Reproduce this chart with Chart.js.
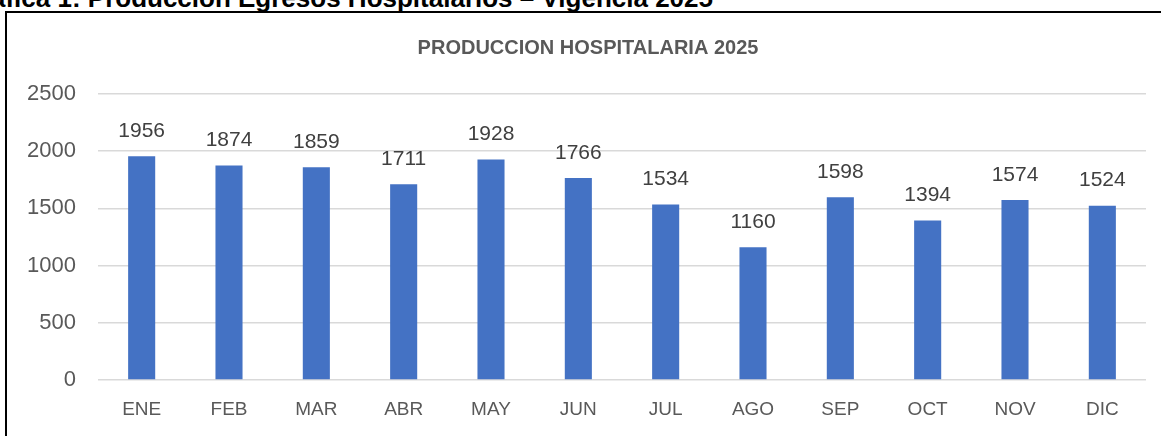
<!DOCTYPE html>
<html>
<head>
<meta charset="utf-8">
<script src="https://cdn.jsdelivr.net/npm/chart.js@4"></script>
<style>
    body { margin: 0; background: #fff; overflow: hidden; }
    #wrap { position: relative; width: 1161px; height: 436px; }
    #caption {
        position: absolute; right: 448px; top: -15px; white-space: nowrap;
        font-family: "Liberation Sans Narrow", "Liberation Sans", Arial, sans-serif;
        font-weight: bold; font-size: 26px; line-height: 26px; color: #000;
    }
    #frame {
        position: absolute; left: 5px; top: 11px; width: 1170px; height: 440px;
        border: 2px solid #000; box-sizing: border-box;
    }
    #chart { position: absolute; left: 0; top: 0; }
</style>
</head>
<body>
<div id="wrap">
    <div id="caption">Gráfica 1: Producción Egresos Hospitalarios – Vigencia 2025</div>
    <div id="frame"></div>
    <canvas id="chart" width="1161" height="436"></canvas>
</div>
<script>
const months = ['ENE', 'FEB', 'MAR', 'ABR', 'MAY', 'JUN', 'JUL', 'AGO', 'SEP', 'OCT', 'NOV', 'DIC'];
const egresos = [1956, 1874, 1859, 1711, 1928, 1766, 1534, 1160, 1598, 1394, 1574, 1524];
const yTicks = [0, 500, 1000, 1500, 2000, 2500];
const chartTitle = 'PRODUCCION HOSPITALARIA 2025';

const FONT = '"Liberation Sans", Arial, sans-serif';

// titulo y etiquetas de valor encima de cada barra
const valueLabels = {
    id: 'valueLabels',
    afterDatasetsDraw(chart) {
        const ctx = chart.ctx;
        const meta = chart.getDatasetMeta(0);
        ctx.save();
        ctx.textAlign = 'center';
        ctx.textBaseline = 'middle';

        ctx.font = 'bold 20px ' + FONT;
        ctx.fillStyle = '#595959';
        ctx.fillText(chartTitle, 588, 48);

        ctx.font = '21px ' + FONT;
        ctx.fillStyle = '#404040';
        meta.data.forEach((bar, i) => {
            ctx.fillText(egresos[i], bar.x, bar.y - 25);
        });
        ctx.restore();
    }
};

new Chart(document.getElementById('chart').getContext('2d'), {
    type: 'bar',
    data: {
        labels: months,
        datasets: [{
            label: 'Egresos',
            data: egresos,
            backgroundColor: '#4472C4',
            barPercentage: 0.31,
            categoryPercentage: 1
        }]
    },
    options: {
        responsive: false,
        animation: false,
        layout: { padding: { left: 0, right: 15, top: 94, bottom: 0 } },
        plugins: {
            legend: { display: false },
            tooltip: { enabled: false },
            title: { display: false }
        },
        scales: {
            x: {
                afterFit(scale) { scale.height = 56; },
                grid: { display: false, drawTicks: false },
                border: { display: false },
                ticks: {
                    color: '#595959',
                    padding: 18,
                    font: { family: FONT, size: 19 }
                }
            },
            y: {
                min: 0,
                max: 2500,
                afterFit(scale) { scale.width = 98; },
                afterTickToLabelConversion(scale) {
                    scale.ticks = yTicks.map(v => ({ value: v, label: String(v) }));
                },
                grid: { color: '#d9d9d9', lineWidth: 1.5, drawTicks: false },
                border: { display: false },
                ticks: {
                    color: '#595959',
                    padding: 22,
                    font: { family: FONT, size: 22 }
                }
            }
        }
    },
    plugins: [valueLabels]
});
</script>
</body>
</html>
